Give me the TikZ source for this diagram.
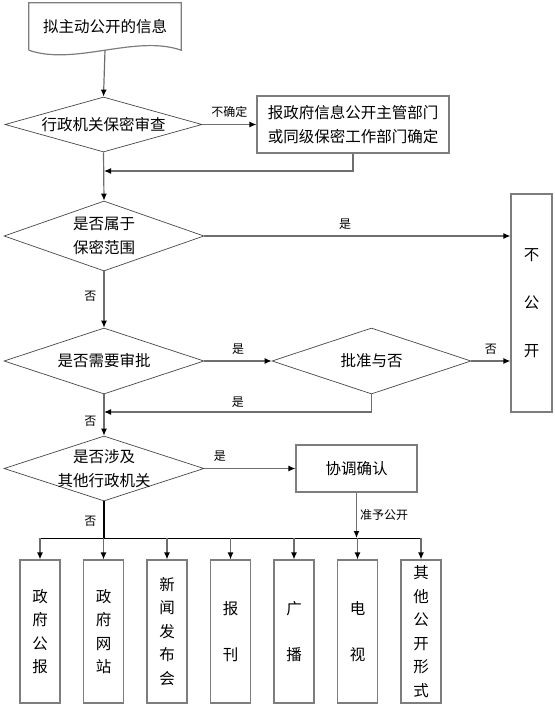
\documentclass[tikz,border=0pt]{standalone}
\usepackage{fontspec}
\setmainfont{Noto Sans CJK SC}
\usetikzlibrary{
  shapes.geometric,
  arrows.meta,
  positioning,
  calc
}
\definecolor{linegray}{RGB}{110,110,110}
\definecolor{edgegray}{RGB}{125,125,125}
\definecolor{darkedge}{RGB}{70,70,70}
\tikzset{
  procbox/.style={
    draw=edgegray, fill=white, line width=1.2pt,
    align=center, inner sep=0pt,
    font=\fontsize{15.5}{24}\selectfont
  },
  decision/.style={
    diamond, draw=darkedge, line width=0.7pt,
    aspect=3, inner sep=-8pt, align=center,
    font=\fontsize{15.5}{23.5}\selectfont
  },
  mediabox/.style={
    procbox, minimum width=40pt, minimum height=143pt,
    font=\fontsize{15.5}{23.5}\selectfont
  },
  flowarrow/.style={
    -{Latex[length=7pt,width=6pt,color=black,fill=black]},
    draw=linegray, line width=1.2pt
  },
  plainline/.style={
    draw=black, line width=1.2pt
  },
  busline/.style={
    draw=black, line width=0.8pt
  },
  flowlabel/.style={
    font=\fontsize{12}{14}\selectfont, inner sep=2pt
  },
}

\begin{document}
\begin{tikzpicture}[x=1pt, y=-1pt]
  \useasboundingbox (0,0) rectangle (554,706);

  %% Start (document shape)
  \node[minimum width=152pt, minimum height=47pt, inner sep=0pt,
        font=\fontsize{15.5}{19}\selectfont] (start) at (105,26.5)
    {拟主动公开的信息};
  \draw[draw=edgegray, line width=1.2pt]
    (start.south west) -- (start.north west) -- (start.north east)
    -- (start.south east)
    .. controls ($(start.south east)+(-46,-16)$)
       and ($(start.south west)+(46,16)$) .. (start.south west);

  %% Secrecy review
  \node[decision, minimum width=197pt, minimum height=55pt] (review)
    at (103.5,124.5) {行政机关保密审查};
  \node[procbox, minimum width=192pt, minimum height=57pt] (confirm)
    at (353,124.5) {报政府信息公开主管部门\\或同级保密工作部门确定};
  \coordinate (merge1) at (104,171);

  %% Secret scope
  \node[decision, minimum width=200pt, minimum height=70pt] (secret)
    at (104,236) {是否属于\\保密范围};
  \node[procbox, minimum width=41pt, minimum height=218pt] (closed)
    at (531.5,303) {不\\[24pt]公\\[24pt]开};

  %% Approval
  \node[decision, minimum width=200pt, minimum height=66pt] (needok)
    at (104,361) {是否需要审批};
  \node[decision, minimum width=199pt, minimum height=66pt] (approve)
    at (371.5,361) {批准与否};
  \coordinate (merge2) at (104,412);

  %% Other agencies
  \node[decision, minimum width=200pt, minimum height=65pt] (others)
    at (104,468.5) {是否涉及\\其他行政机关};
  \node[procbox, minimum width=121pt, minimum height=47pt] (coord)
    at (356.5,468.5) {协调确认};
  \coordinate (bus) at (0,538);

  %% Publishing channels
  \node[mediabox] (m1) at (40,631.5) {政\\府\\公\\报};
  \node[mediabox, right=22.3pt of m1] (m2) {政\\府\\网\\站};
  \node[mediabox, right=22.3pt of m2] (m3) {新\\闻\\发\\布\\会};
  \node[mediabox, right=22.3pt of m3] (m4) {报\\[22pt]刊};
  \node[mediabox, right=22.3pt of m4] (m5) {广\\[22pt]播};
  \node[mediabox, right=22.3pt of m5] (m6) {电\\[22pt]视};
  \node[mediabox, right=22.3pt of m6] (m7) {其\\他\\公\\开\\形\\式};

  %% Connectors
  \draw[flowarrow] (start.south) -- (review.north);
  \draw[flowarrow] (review.east)
    -- node[flowlabel, above=4pt] {不确定} (confirm.west);
  \draw[flowarrow] (confirm.south) |- (merge1);
  \draw[flowarrow] (review.south) -- (secret.north);
  \draw[flowarrow] (secret.east)
    -- node[flowlabel, above=4pt, pos=0.46] {是} (secret.east -| closed.west);
  \draw[flowarrow] (secret.south)
    -- node[flowlabel, left=5pt, pos=0.45] {否} (needok.north);
  \draw[flowarrow] (needok.east)
    -- node[flowlabel, above=4pt] {是} (approve.west);
  \draw[flowarrow] (approve.east)
    -- node[flowlabel, above=4pt] {否} (approve.east -| closed.west);
  \draw[flowarrow] (approve.south)
    |- node[flowlabel, above=2pt, pos=0.75] {是} (merge2);
  \draw[flowarrow] (needok.south)
    -- node[flowlabel, left=5pt, pos=0.65] {否} (others.north);
  \draw[flowarrow] (others.east)
    -- node[flowlabel, above=4pt, pos=0.17] {是} (coord.west);
  \draw[flowarrow] (coord.south)
    -- node[flowlabel, right=1pt] {准予公开} (coord.south |- bus);
  \draw[plainline] (others.south)
    -- node[flowlabel, left=5pt, pos=0.55] {否} (others.south |- bus);

  %% Distribution bus
  \draw[busline] (m1.north |- bus) -- (m7.north |- bus);
  \draw[flowarrow] (m1.north |- bus) -- (m1.north);
  \draw[flowarrow] (m2.north |- bus) -- (m2.north);
  \draw[flowarrow] (m3.north |- bus) -- (m3.north);
  \draw[flowarrow] (m4.north |- bus) -- (m4.north);
  \draw[flowarrow] (m5.north |- bus) -- (m5.north);
  \draw[flowarrow] (m6.north |- bus) -- (m6.north);
  \draw[flowarrow] (m7.north |- bus) -- (m7.north);

\end{tikzpicture}
\end{document}
